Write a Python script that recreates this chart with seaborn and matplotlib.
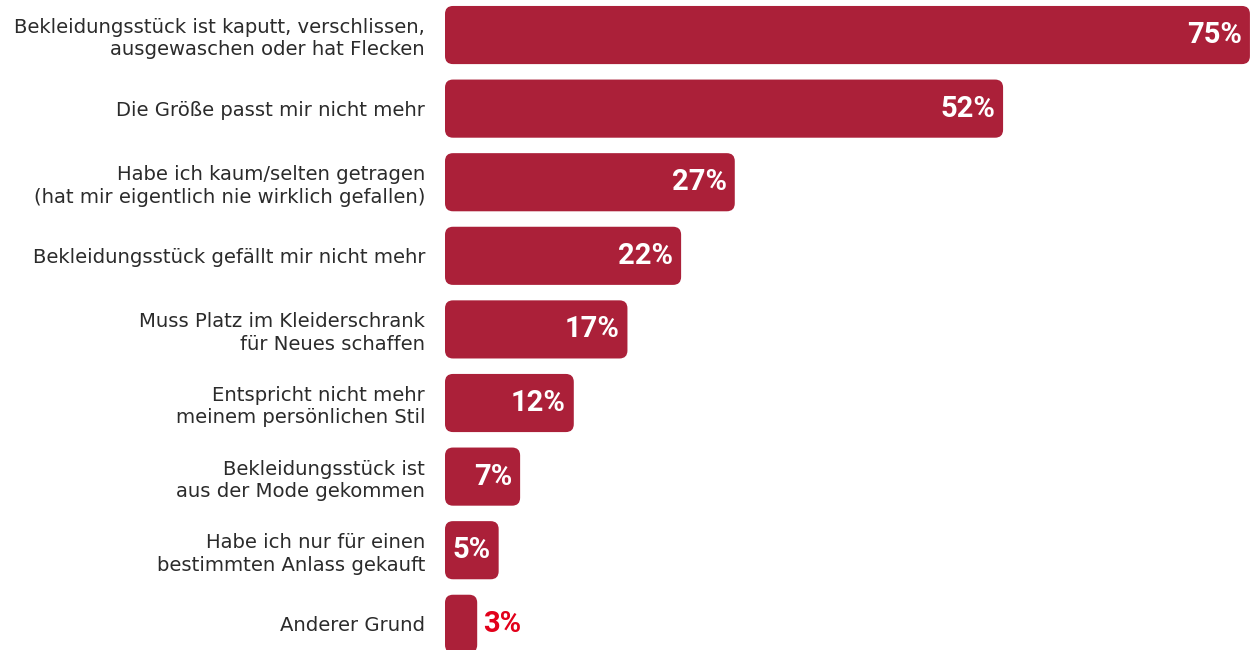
import pandas as pd
import seaborn as sns
import matplotlib.pyplot as plt
from matplotlib.patches import FancyBboxPatch

# Data
reasons = [
    "Bekleidungsstück ist kaputt, verschlissen,\nausgewaschen oder hat Flecken",
    "Die Größe passt mir nicht mehr",
    "Habe ich kaum/selten getragen\n(hat mir eigentlich nie wirklich gefallen)",
    "Bekleidungsstück gefällt mir nicht mehr",
    "Muss Platz im Kleiderschrank\nfür Neues schaffen",
    "Entspricht nicht mehr\nmeinem persönlichen Stil",
    "Bekleidungsstück ist\naus der Mode gekommen",
    "Habe ich nur für einen\nbestimmten Anlass gekauft",
    "Anderer Grund",
]
shares = [75, 52, 27, 22, 17, 12, 7, 5, 3]

bar_color = "#AB2039"
df = pd.DataFrame({"reason": reasons, "share": shares})

sns.set_style("white")
plt.rcParams["font.family"] = ["DejaVu Sans"]

fig = plt.figure(figsize=(12.51, 6.5), dpi=100)
ax = fig.add_axes([445 / 1251, 0, 806 / 1251, 1])

sns.barplot(data=df, x="share", y="reason", orient="h", color=bar_color,
            width=0.79, saturation=1, ax=ax)

ax.set_xlim(0, 75.1)
ax.set_ylim(8.356, -0.476)

# replace the plain bars with rounded ones
fig.canvas.draw()
px_x = ax.transData.transform((1, 0))[0] - ax.transData.transform((0, 0))[0]
px_y = abs(ax.transData.transform((0, 1))[1] - ax.transData.transform((0, 0))[1])
r = 8 / px_x
aspect = px_x / px_y
for p in list(ax.patches):
    x, y = p.get_x(), p.get_y()
    w, h = p.get_width(), p.get_height()
    p.remove()
    ax.add_patch(FancyBboxPatch((x, y), w, h,
                                boxstyle=f"round,pad=0,rounding_size={r}",
                                mutation_aspect=aspect, fc=bar_color, ec="none"))

# value labels
lab_font = ["Roboto", "DejaVu Sans"]
for i, v in enumerate(shares):
    if v >= 5:
        ax.text(v - 8 / px_x, i, f"{v}%", ha="right", va="center", color="white",
                fontsize=21, fontweight="bold", family=lab_font)
    else:
        ax.text(v + 6 / px_x, i, f"{v}%", ha="left", va="center", color="#E2001A",
                fontsize=21, fontweight="bold", family=lab_font)

ax.set_xlabel("")
ax.set_ylabel("")
ax.set_xticks([])
ax.tick_params(axis="y", length=0, pad=14.4, labelsize=14.1, labelcolor="#2b2b2b")
for t in ax.get_yticklabels():
    t.set_linespacing(1.22)
sns.despine(ax=ax, left=True, bottom=True)

fig.savefig("out.png", dpi=100)
